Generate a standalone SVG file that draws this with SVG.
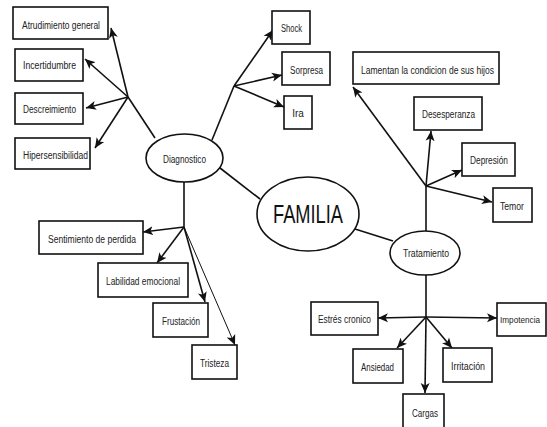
<svg xmlns="http://www.w3.org/2000/svg" width="547" height="427" viewBox="0 0 547 427">
  <style>
    .box { fill: #fff; stroke: #111; stroke-width: 1.6; }
    .oval { fill: #fff; stroke: #111; stroke-width: 1.6; }
    .lbl { font-family: "Liberation Sans", Arial, sans-serif; font-size: 10px; fill: #222; text-anchor: middle; dominant-baseline: central; }
    .big { font-family: "Liberation Sans", Arial, sans-serif; font-size: 25px; fill: #111; text-anchor: middle; dominant-baseline: central; }
    .ln { fill: none; stroke: #111; stroke-width: 1.6; }
    .arr { fill: none; stroke: #111; stroke-width: 1.6; marker-end: url(#head); }
    .thin { fill: none; stroke: #111; stroke-width: 1; marker-end: url(#head); }
  </style>
  <defs>
    <marker id="head" markerUnits="userSpaceOnUse" markerWidth="11" markerHeight="10" refX="10" refY="5" orient="auto">
      <path d="M0,0.5 L10,5 L0,9.5 L2.5,5 z" fill="#111"/>
    </marker>
  </defs>
  <rect width="547" height="427" fill="#fff"/>

  <!-- connectors -->
  <g id="connectors">
    <!-- Diagnostico branches -->
    <line class="ln" x1="155" y1="138" x2="128" y2="97"/>
    <line class="arr" x1="128" y1="97" x2="111" y2="28"/>
    <line class="arr" x1="128" y1="97" x2="85" y2="59"/>
    <line class="arr" x1="128" y1="97" x2="86" y2="108"/>
    <line class="arr" x1="128" y1="97" x2="95" y2="148"/>
    <line class="ln" x1="212" y1="140" x2="234" y2="86"/>
    <line class="arr" x1="234" y1="86" x2="273" y2="30"/>
    <line class="arr" x1="234" y1="86" x2="282" y2="75"/>
    <line class="arr" x1="234" y1="86" x2="284" y2="107"/>
    <line class="ln" x1="184" y1="182" x2="184" y2="227"/>
    <line class="arr" x1="184" y1="227" x2="143" y2="232"/>
    <line class="arr" x1="184" y1="227" x2="157" y2="263"/>
    <line class="arr" x1="184" y1="227" x2="205" y2="302"/>
    <line class="thin" x1="184" y1="227" x2="235" y2="345"/>
    <!-- links to FAMILIA -->
    <line class="ln" x1="220" y1="168" x2="260" y2="199"/>
    <line class="ln" x1="355" y1="229" x2="393" y2="241"/>
    <!-- Tratamiento branches -->
    <line class="ln" x1="426" y1="231" x2="426" y2="186"/>
    <line class="arr" x1="426" y1="186" x2="353" y2="87"/>
    <line class="arr" x1="426" y1="186" x2="431" y2="131"/>
    <line class="arr" x1="426" y1="186" x2="462" y2="170"/>
    <line class="arr" x1="426" y1="186" x2="492" y2="202"/>
    <line class="ln" x1="426" y1="275" x2="426" y2="317"/>
    <line class="arr" x1="426" y1="317" x2="378" y2="318"/>
    <line class="arr" x1="426" y1="317" x2="497" y2="318"/>
    <line class="arr" x1="426" y1="317" x2="397" y2="348"/>
    <line class="arr" x1="426" y1="317" x2="452" y2="348"/>
    <line class="arr" x1="426" y1="317" x2="425" y2="393"/>
  </g>

  <!-- central and hub nodes -->
  <g id="familia">
    <ellipse class="oval" cx="308" cy="214" rx="51" ry="37"/>
    <text class="big" x="308" y="214" textLength="70" lengthAdjust="spacingAndGlyphs">FAMILIA</text>
  </g>
  <g id="diagnostico">
    <ellipse class="oval" cx="184.5" cy="158" rx="38.5" ry="24"/>
    <text class="lbl" x="184.5" y="159" textLength="43" lengthAdjust="spacingAndGlyphs">Diagnostico</text>
  </g>
  <g id="tratamiento">
    <ellipse class="oval" cx="425" cy="253" rx="35" ry="22"/>
    <text class="lbl" x="426" y="253" textLength="46" lengthAdjust="spacingAndGlyphs">Tratamiento</text>
  </g>

  <!-- Diagnostico leaves -->
  <g id="atrudimiento">
    <rect class="box" x="13" y="7" width="95" height="32"/>
    <text class="lbl" x="61" y="25" textLength="78" lengthAdjust="spacingAndGlyphs">Atrudimiento general</text>
  </g>
  <g id="incertidumbre">
    <rect class="box" x="15" y="49" width="68" height="32"/>
    <text class="lbl" x="49.5" y="65" textLength="53" lengthAdjust="spacingAndGlyphs">Incertidumbre</text>
  </g>
  <g id="descreimiento">
    <rect class="box" x="15" y="93" width="68" height="31"/>
    <text class="lbl" x="49.5" y="109" textLength="53" lengthAdjust="spacingAndGlyphs">Descreimiento</text>
  </g>
  <g id="hipersensibilidad">
    <rect class="box" x="15" y="138" width="75" height="31"/>
    <text class="lbl" x="55.5" y="155" textLength="65" lengthAdjust="spacingAndGlyphs">Hipersensibilidad</text>
  </g>
  <g id="shock">
    <rect class="box" x="272" y="11" width="38" height="33"/>
    <text class="lbl" x="291.5" y="28" textLength="21" lengthAdjust="spacingAndGlyphs">Shock</text>
  </g>
  <g id="sorpresa">
    <rect class="box" x="282" y="52" width="48" height="33"/>
    <text class="lbl" x="306.5" y="70" textLength="33" lengthAdjust="spacingAndGlyphs">Sorpresa</text>
  </g>
  <g id="ira">
    <rect class="box" x="284" y="96" width="28" height="33"/>
    <text class="lbl" x="298" y="113">Ira</text>
  </g>
  <g id="sentimiento">
    <rect class="box" x="39" y="221" width="104" height="33"/>
    <text class="lbl" x="92" y="239" textLength="88" lengthAdjust="spacingAndGlyphs">Sentimiento de perdida</text>
  </g>
  <g id="labilidad">
    <rect class="box" x="98" y="263" width="90" height="34"/>
    <text class="lbl" x="143" y="281" textLength="74" lengthAdjust="spacingAndGlyphs">Labilidad emocional</text>
  </g>
  <g id="frustacion">
    <rect class="box" x="153" y="303" width="55" height="34"/>
    <text class="lbl" x="181" y="321" textLength="38" lengthAdjust="spacingAndGlyphs">Frustación</text>
  </g>
  <g id="tristeza">
    <rect class="box" x="192" y="345" width="45" height="34"/>
    <text class="lbl" x="214.5" y="363" textLength="29" lengthAdjust="spacingAndGlyphs">Tristeza</text>
  </g>

  <!-- Tratamiento leaves -->
  <g id="lamentan">
    <rect class="box" x="353" y="52" width="146" height="32"/>
    <text class="lbl" x="427.5" y="70" textLength="133" lengthAdjust="spacingAndGlyphs">Lamentan la condicion de sus hijos</text>
  </g>
  <g id="desesperanza">
    <rect class="box" x="414" y="97" width="68" height="33"/>
    <text class="lbl" x="448.5" y="114" textLength="53" lengthAdjust="spacingAndGlyphs">Desesperanza</text>
  </g>
  <g id="depresion">
    <rect class="box" x="462" y="143" width="53" height="33"/>
    <text class="lbl" x="489" y="160" textLength="38" lengthAdjust="spacingAndGlyphs">Depresión</text>
  </g>
  <g id="temor">
    <rect class="box" x="493" y="188" width="39" height="34"/>
    <text class="lbl" x="512" y="206" textLength="24" lengthAdjust="spacingAndGlyphs">Temor</text>
  </g>
  <g id="estres">
    <rect class="box" x="311" y="302" width="67" height="33"/>
    <text class="lbl" x="344.5" y="319" textLength="53" lengthAdjust="spacingAndGlyphs">Estrés cronico</text>
  </g>
  <g id="impotencia">
    <rect class="box" x="497" y="303" width="49" height="33"/>
    <text class="lbl" x="520" y="319" style="font-size:9.5px" textLength="40" lengthAdjust="spacingAndGlyphs">Impotencia</text>
  </g>
  <g id="ansiedad">
    <rect class="box" x="353" y="349" width="50" height="34"/>
    <text class="lbl" x="377.5" y="367" textLength="33" lengthAdjust="spacingAndGlyphs">Ansiedad</text>
  </g>
  <g id="irritacion">
    <rect class="box" x="443" y="348" width="49" height="34"/>
    <text class="lbl" x="468" y="366" textLength="34" lengthAdjust="spacingAndGlyphs">Irritación</text>
  </g>
  <g id="cargas">
    <rect class="box" x="403" y="394" width="41" height="40"/>
    <text class="lbl" x="425" y="413" textLength="26" lengthAdjust="spacingAndGlyphs">Cargas</text>
  </g>
</svg>
